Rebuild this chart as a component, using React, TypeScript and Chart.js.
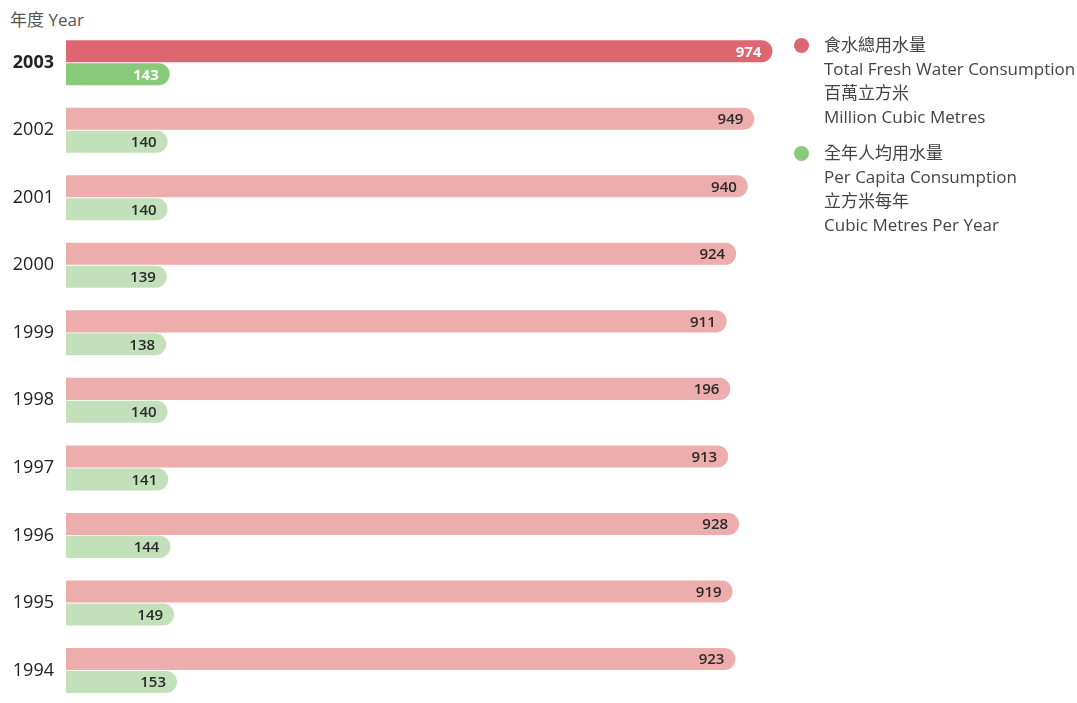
import React, { useEffect, useRef } from 'react';
import { Chart, registerables } from 'chart.js';

Chart.register(...registerables);

// years shown top to bottom
const years = ['2003', '2002', '2001', '2000', '1999', '1998', '1997', '1996', '1995', '1994'];
// total fresh water consumption, million cubic metres
const totalConsumption = [974, 949, 940, 924, 911, 916, 913, 928, 919, 923];
// text printed on the red bars (the 1998 label reads "196" in the source)
const totalLabels = ['974', '949', '940', '924', '911', '196', '913', '928', '919', '923'];
// per capita consumption, cubic metres per year
const perCapita = [143, 140, 140, 139, 138, 140, 141, 144, 149, 153];
const perCapitaLabels = perCapita.map(String);

const FONT = "'Open Sans', 'Noto Sans CJK TC', sans-serif";
const RED = '#DD6670';
const RED_LIGHT = '#EDADAC';
const GREEN = '#87CA79';
const GREEN_LIGHT = '#C2E1BB';

// draws the numbers inside the rounded end of each bar
const valueLabels = {
    id: 'valueLabels',
    afterDatasetsDraw(chart: Chart) {
        const ctx = chart.ctx;
        const texts = [totalLabels, perCapitaLabels];
        chart.data.datasets.forEach((_, di) => {
            const meta = chart.getDatasetMeta(di);
            meta.data.forEach((bar: any, i: number) => {
                const highlight = i === 0;
                ctx.save();
                ctx.font = `${highlight ? 'bold' : '600'} 15px ${FONT}`;
                ctx.fillStyle = highlight ? '#ffffff' : '#2a2a2a';
                ctx.textAlign = 'right';
                ctx.textBaseline = 'middle';
                ctx.fillText(texts[di][i], bar.x - 11, bar.y + 1);
                ctx.restore();
            });
        });
    }
};

export default function App() {
    const chartRef = useRef<HTMLCanvasElement | null>(null);

    useEffect(() => {
        document.body.style.margin = '0';
        let chartInstance: Chart | null = null;
        if (chartRef.current) {
            chartInstance = new Chart(chartRef.current, {
                type: 'bar',
                data: {
                    labels: years,
                    datasets: [
                        {
                            label: '食水總用水量',
                            data: totalConsumption,
                            backgroundColor: years.map((_, i) => (i === 0 ? RED : RED_LIGHT)),
                            borderRadius: 12,
                            borderSkipped: 'start',
                            inflateAmount: 0
                        },
                        {
                            label: '全年人均用水量',
                            data: perCapita,
                            backgroundColor: years.map((_, i) => (i === 0 ? GREEN : GREEN_LIGHT)),
                            borderRadius: 12,
                            borderSkipped: 'start',
                            inflateAmount: 0
                        }
                    ]
                },
                options: {
                    indexAxis: 'y',
                    animation: false,
                    responsive: true,
                    maintainAspectRatio: false,
                    datasets: { bar: { categoryPercentage: 0.68, barPercentage: 0.96 } },
                    layout: { padding: { top: 29, bottom: 0, left: 0, right: 0 } },
                    plugins: { legend: { display: false }, tooltip: { enabled: false } },
                    scales: {
                        x: { display: false, min: 0, max: 1012 },
                        y: {
                            afterFit: (scale: any) => { scale.width = 66; },
                            grid: { display: false, drawTicks: false },
                            border: { display: false },
                            ticks: {
                                padding: 12,
                                color: '#222222',
                                font: (c: any) => ({ family: FONT, size: 18, weight: c.index === 0 ? 'bold' : 'normal' })
                            }
                        }
                    }
                },
                plugins: [valueLabels]
            });
        }
        return () => {
            if (chartInstance) chartInstance.destroy();
        };
    }, []);

    const legendItems = [
        { color: RED, lines: ['食水總用水量', 'Total Fresh Water Consumption', '百萬立方米', 'Million Cubic Metres'] },
        { color: GREEN, lines: ['全年人均用水量', 'Per Capita Consumption', '立方米每年', 'Cubic Metres Per Year'] }
    ];

    return (
        <div style={{ position: 'fixed', left: 0, top: 0, width: 1077, height: 703, overflow: 'hidden', background: '#fff', fontFamily: FONT }}>
            <div style={{ position: 'absolute', left: 10, top: 8, fontSize: 17, lineHeight: '24px', color: '#555' }}>年度 Year</div>
            <div style={{ position: 'absolute', left: 0, top: 0, width: 800, height: 727 }}>
                <canvas ref={chartRef}></canvas>
            </div>
            <div style={{ position: 'absolute', left: 794, top: 33 }}>
                {legendItems.map((item, k) => (
                    <div key={k} style={{ position: 'relative', paddingLeft: 30, marginBottom: 12, fontSize: 17, lineHeight: '24px', color: '#444' }}>
                        <span style={{ position: 'absolute', left: 0, top: 5, width: 15, height: 15, borderRadius: '50%', background: item.color }}></span>
                        {item.lines.map((l, j) => <div key={j} style={{ whiteSpace: 'nowrap' }}>{l}</div>)}
                    </div>
                ))}
            </div>
        </div>
    );
}
